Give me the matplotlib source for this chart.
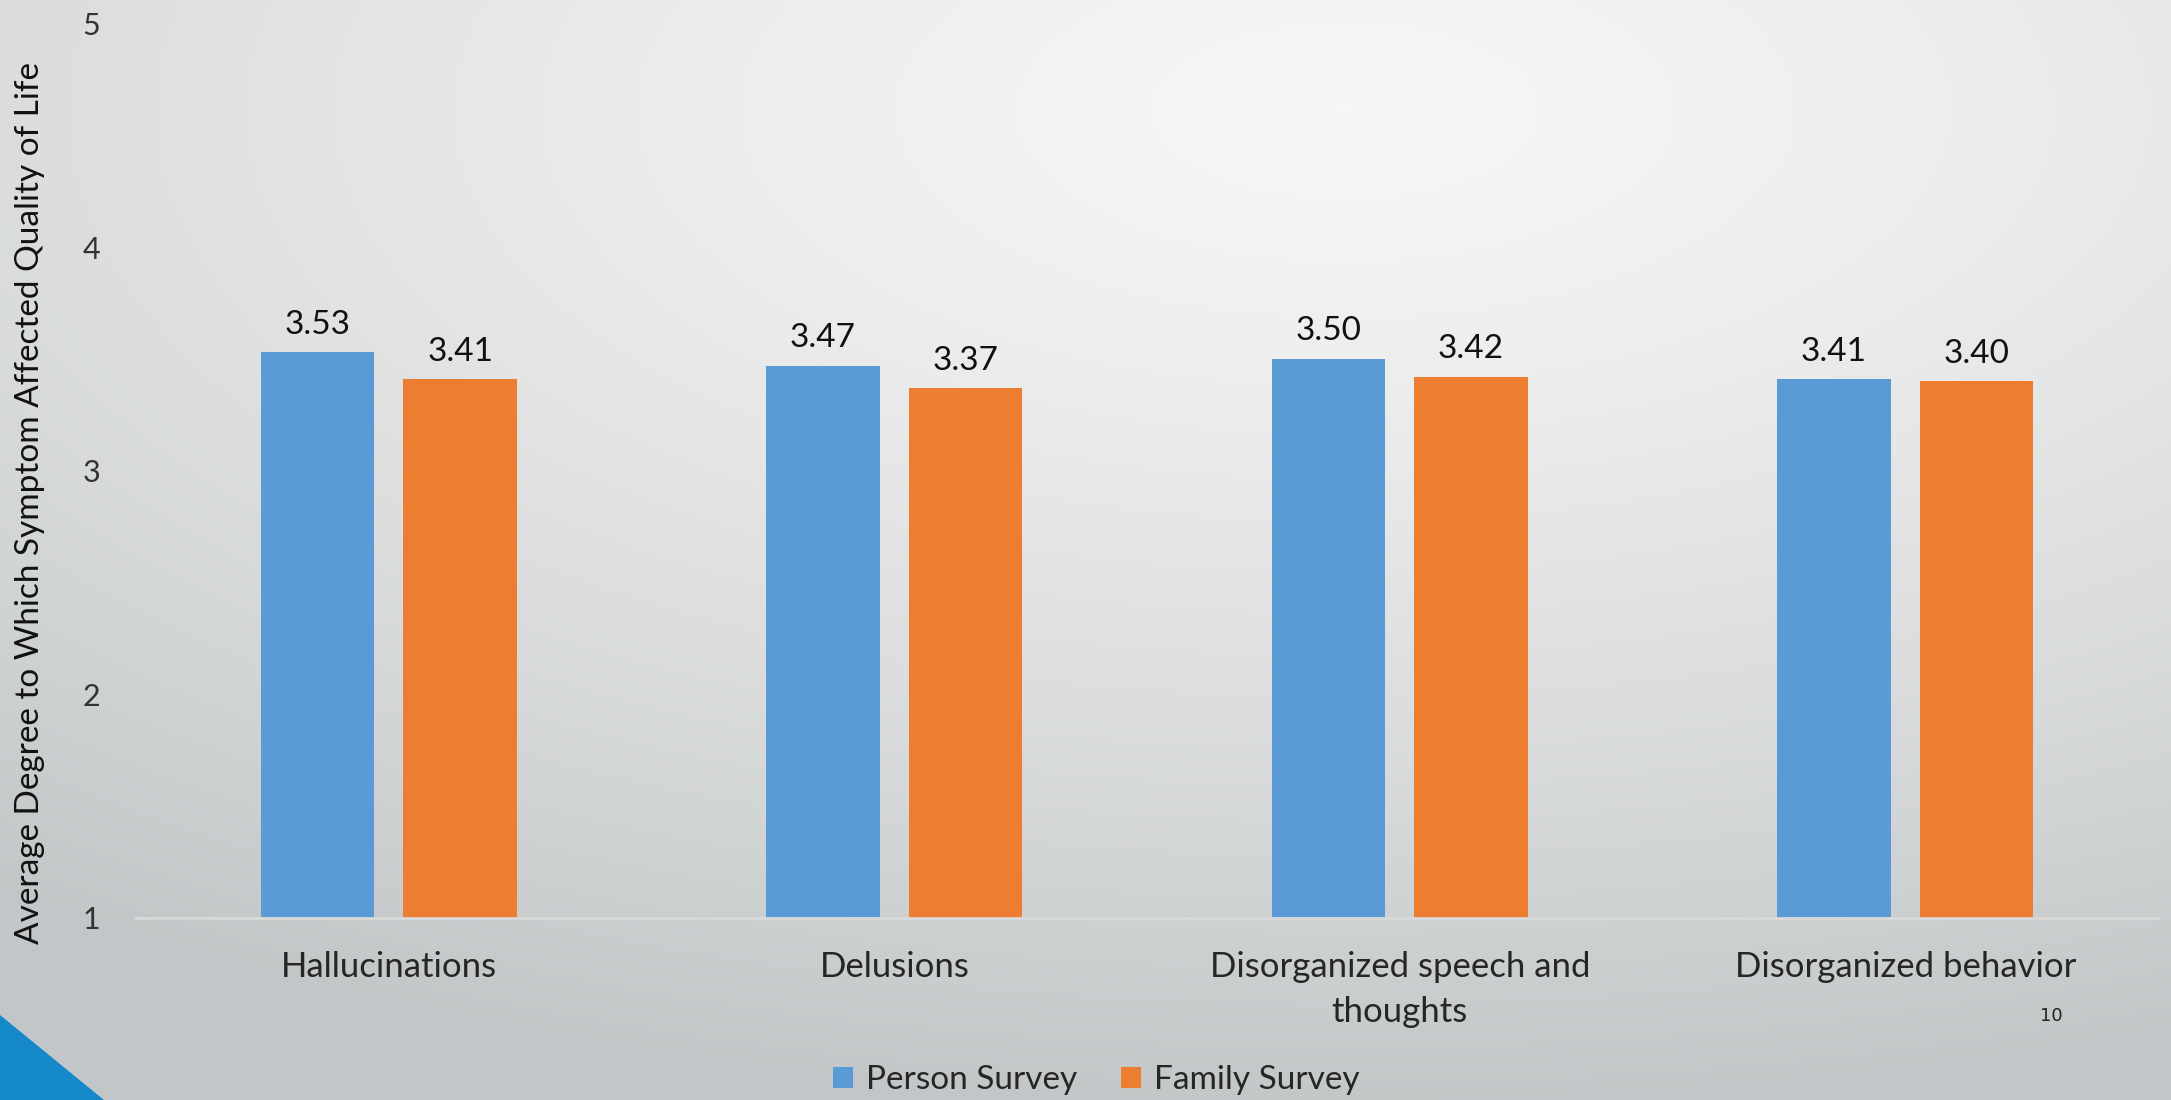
import numpy as np
import matplotlib
matplotlib.use('Agg')
from matplotlib import pyplot as plt
from matplotlib.patches import Polygon, Patch

categories = ['Hallucinations', 'Delusions', 'Disorganized speech and\nthoughts', 'Disorganized behavior']
person_survey = [3.53, 3.47, 3.50, 3.41]
family_survey = [3.41, 3.37, 3.42, 3.40]
series_names = ['Person Survey', 'Family Survey']
y_ticks = [1, 2, 3, 4, 5]
y_label = 'Average Degree to Which Symptom Affected Quality of Life'
page_number = '10'

_blue = '#5B9BD5'
_orange = '#ED7D31'
_font = 'Lato'

plt.rcParams['font.family'] = [_font, 'DejaVu Sans']

fig = plt.figure(figsize=(21.71, 11), dpi=100)

# slide background: soft radial gradient, light near the top middle
bg = fig.add_axes([0, 0, 1, 1], zorder=-5)
bg.axis('off')
yy, xx = np.mgrid[0:1:550j, 0:1:1086j]
r = np.sqrt(((xx - 0.62) / 1.05) ** 2 + ((yy - 0.10) / 0.95) ** 2)
t = np.clip(r / 0.95, 0, 1) ** 1.3
light = np.array([0.965, 0.965, 0.965])
dark = np.array([0.765, 0.780, 0.785])
img = light[None, None, :] * (1 - t[..., None]) + dark[None, None, :] * t[..., None]
bg.imshow(img, extent=(0, 1, 0, 1), aspect='auto', origin='upper')
bg.set_xlim(0, 1)
bg.set_ylim(0, 1)
bg.add_patch(Polygon([(0, 0), (0, 1 - 1015/1100), (104/2171, 0)], closed=True,
                     facecolor='#1589C9', edgecolor='none'))

ax = fig.add_axes([0.0627, 0.1655, 0.9313, 0.8131])
ax.patch.set_alpha(0)

x = np.arange(len(categories))
width = 0.225
offset = 0.141
bars_p = ax.bar(x - offset, person_survey, width, color=_blue, zorder=2)
bars_f = ax.bar(x + offset, family_survey, width, color=_orange, zorder=2)

for bars, values in ((bars_p, person_survey), (bars_f, family_survey)):
    for bar, v in zip(bars, values):
        ax.annotate(f'{v:.2f}', (bar.get_x() + bar.get_width()/2, v),
                    xytext=(0, 9), textcoords='offset points',
                    ha='center', va='bottom', fontsize=24, color='#111111')

ax.set_xlim(-0.5, len(categories) - 0.5)
ax.set_ylim(1, 5)
ax.set_yticks(y_ticks)
ax.set_yticklabels([str(v) for v in y_ticks], fontsize=22, color='#333333')
ax.set_xticks(x)
ax.set_xticklabels(categories, fontsize=25, color='#262626', linespacing=1.5)
ax.tick_params(axis='both', length=0)
ax.tick_params(axis='y', pad=26)
ax.tick_params(axis='x', pad=24)
for side in ('top', 'right', 'left'):
    ax.spines[side].set_visible(False)
ax.spines['bottom'].set_color('#D9D9D9')
ax.spines['bottom'].set_linewidth(2)
ax.spines['bottom'].set_zorder(3)

fig.text(30/2171, 1 - 503/1100, y_label, rotation=90, ha='center', va='center',
         fontsize=24, color='#111111')

handles = [Patch(facecolor=_blue, edgecolor='none'), Patch(facecolor=_orange, edgecolor='none')]
fig.legend(handles, series_names, loc='center', bbox_to_anchor=(0.505, 1 - 1080/1100),
           ncol=2, frameon=False, handlelength=0.6, handleheight=0.6,
           handletextpad=0.4, columnspacing=1.3,
           prop={'family': _font, 'size': 24})
for txt in fig.legends[0].get_texts():
    txt.set_color('#262626')

fig.text(2051/2171, 1 - 1016/1100, page_number, ha='center', va='center',
         fontsize=13, color='#222222', family='DejaVu Sans')

fig.savefig('out.png', dpi=100)
plt.close()
